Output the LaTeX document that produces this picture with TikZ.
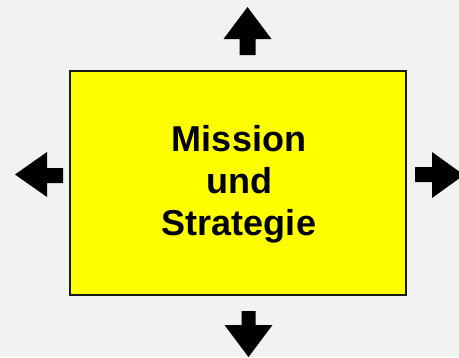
\documentclass[tikz,border=0pt]{standalone}
\usepackage{fontspec}
\setmainfont{Liberation Sans}
\definecolor{bg}{HTML}{F2F2F2}
\definecolor{boxyellow}{HTML}{FFFF00}
\tikzset{
  box/.style={draw=black!90, line width=2pt, fill=boxyellow},
  arr/.style={fill=black},
  lbl/.style={font=\bfseries\fontsize{36}{42}\selectfont, align=center, text=black}
}
\begin{document}
\begin{tikzpicture}[x=1pt,y=-1pt]
  \fill[bg] (0,0) rectangle (459,357);
  \clip (0,0) rectangle (459,357);
  \useasboundingbox (0,0) rectangle (459,357);
  \draw[box] (70,71) rectangle (406,295);
  \node[lbl] (title) at (239,184) {Mission\\und\\Strategie};
  % top arrow
  \fill[arr] (239.5,55) -- (239.5,39) -- (223.5,39) -- (247.5,7) -- (271.5,39) -- (255.5,39) -- (255.5,55) -- cycle;
  % bottom arrow
  \fill[arr] (241.5,311) -- (241.5,325) -- (224.5,325) -- (248.5,357) -- (272.5,325) -- (255.5,325) -- (255.5,311) -- cycle;
  % left arrow
  \fill[arr] (63,168) -- (47,168) -- (47,152) -- (15,174.5) -- (47,197) -- (47,183) -- (63,183) -- cycle;
  % right arrow
  \fill[arr] (415,167) -- (432,167) -- (432,152) -- (464,175) -- (432,198) -- (432,182) -- (415,182) -- cycle;
\end{tikzpicture}
\end{document}
